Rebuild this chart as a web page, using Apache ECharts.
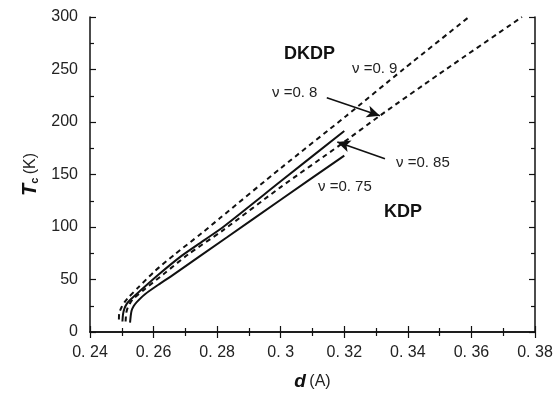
<!DOCTYPE html>
<html>
<head>
<meta charset="utf-8">
<script src="https://cdn.jsdelivr.net/npm/echarts@6/dist/echarts.min.js"></script>
<style>
  html, body { margin: 0; padding: 0; background: #fff; }
  #chart { width: 556px; height: 396px; }
</style>
</head>
<body>
<div id="chart"></div>
<script>
// tick range
const xTicks = { min: 0.24, max: 0.38, step: 0.02 };
const yTicks = { min: 0, max: 300, step: 50 };

// [d (A), Tc (K)]
const dkdpNu09 = [[0.2491, 12], [0.2492, 18], [0.2500, 24], [0.2510, 29], [0.2521, 33], [0.2552, 42.5],
  [0.2604, 58], [0.2667, 74], [0.2751, 94], [0.2809, 108.5], [0.3000, 156], [0.3207, 206], [0.3385, 250], [0.3592, 300]];
const kdpNu085 = [[0.2502, 10], [0.2504, 17], [0.2508, 22], [0.2516, 27], [0.2526, 30.5], [0.2557, 39],
  [0.2615, 54.5], [0.2688, 72.5], [0.2762, 88], [0.2819, 100], [0.3000, 143.5], [0.3200, 191.5]];
const dkdpNu08 = [[0.2512, 10], [0.2514, 18], [0.2519, 23.5], [0.2527, 28], [0.2536, 31.5], [0.2573, 41],
  [0.2631, 55], [0.2709, 74], [0.2819, 97], [0.3000, 138], [0.3186, 178], [0.3312, 206], [0.3500, 246], [0.3759, 300]];
const kdpNu075 = [[0.2526, 9], [0.2528, 15], [0.2531, 20.5], [0.2538, 25], [0.2547, 28.5], [0.2573, 36],
  [0.2615, 45], [0.2657, 53.5], [0.2830, 90], [0.3000, 126], [0.3200, 168]];

// arrows: [from, to] in data units
const arrowNu08 = [[0.3145, 223], [0.3312, 206]];
const arrowNu085 = [[0.3328, 165], [0.3178, 181]];

const FONT = '"Liberation Sans", Arial, sans-serif';
const INK = '#111';

const chart = echarts.init(document.getElementById('chart'));

function curve(name, data, dashed) {
  return {
    name: name,
    type: 'line',
    data: data,
    showSymbol: false,
    smooth: 0.25,
    silent: true,
    lineStyle: { color: INK, width: 2, type: dashed ? [5, 4] : 'solid' },
    z: 3
  };
}

function arrow(pair) {
  return [
    { coord: pair[0], symbol: 'none' },
    { coord: pair[1], symbol: 'arrow', symbolSize: [9, 13] }
  ];
}

const tickLabel = v => String(+v.toFixed(2)).replace('.', '. ');

const baseX = {
  type: 'value',
  min: xTicks.min, max: xTicks.max, interval: xTicks.step,
  axisLine: { show: true, lineStyle: { color: INK, width: 1.5 } },
  axisTick: { show: true, inside: true, length: 6, lineStyle: { color: INK, width: 1.2 } },
  minorTick: { show: true, splitNumber: 2, length: 4, lineStyle: { color: INK, width: 1.2 } },
  splitLine: { show: false }
};
const baseY = {
  type: 'value',
  min: yTicks.min, max: yTicks.max, interval: yTicks.step,
  axisLine: { show: true, lineStyle: { color: INK, width: 1.5 } },
  axisTick: { show: true, inside: true, length: 6, lineStyle: { color: INK, width: 1.2 } },
  minorTick: { show: true, splitNumber: 2, length: 4, lineStyle: { color: INK, width: 1.2 } },
  splitLine: { show: false }
};

chart.setOption({
  animation: false,
  grid: { left: 90, right: 21, top: 17, bottom: 61 },
  xAxis: [
    Object.assign({}, baseX, {
      position: 'bottom',
      axisLabel: { color: '#222', fontSize: 16, fontFamily: FONT, margin: 13, formatter: tickLabel },
      name: '{d|d} {u|(A)}',
      nameLocation: 'middle',
      nameGap: 40,
      nameTextStyle: {
        rich: {
          d: { fontSize: 19, fontWeight: 'bold', fontStyle: 'italic', fontFamily: FONT, color: INK },
          u: { fontSize: 16, fontFamily: FONT, color: '#222' }
        }
      }
    }),
    Object.assign({}, baseX, { position: 'top', axisLabel: { show: false } })
  ],
  yAxis: [
    Object.assign({}, baseY, {
      position: 'left',
      axisLabel: { color: '#222', fontSize: 16, fontFamily: FONT, margin: 12 },
      name: '{t|T}{c|c} {u|(K)}',
      nameLocation: 'middle',
      nameGap: 46,
      nameRotate: 90,
      nameTextStyle: {
        rich: {
          t: { fontSize: 20, fontWeight: 'bold', fontStyle: 'italic', fontFamily: FONT, color: INK },
          c: { fontSize: 11, fontWeight: 'bold', fontFamily: FONT, color: INK, verticalAlign: 'bottom', padding: [8, 0, 0, 0] },
          u: { fontSize: 16, fontFamily: FONT, color: '#222' }
        }
      }
    }),
    Object.assign({}, baseY, { position: 'right', axisLabel: { show: false } })
  ],
  series: [
    curve('DKDP ν=0.9', dkdpNu09, true),
    curve('KDP ν=0.85', kdpNu085, false),
    curve('DKDP ν=0.8', dkdpNu08, true),
    Object.assign(curve('KDP ν=0.75', kdpNu075, false), {
      markLine: {
        silent: true,
        animation: false,
        label: { show: false },
        lineStyle: { color: INK, width: 1.6, type: 'solid' },
        data: [arrow(arrowNu08), arrow(arrowNu085)]
      }
    })
  ],
  graphic: [
    { type: 'text', left: 284, top: 45, style: { text: 'DKDP', font: 'bold 18px ' + FONT, fill: INK } },
    { type: 'text', left: 384, top: 203, style: { text: 'KDP', font: 'bold 18px ' + FONT, fill: INK } },
    { type: 'text', left: 352, top: 61, style: { text: 'ν =0. 9', font: '15px ' + FONT, fill: '#222' } },
    { type: 'text', left: 272, top: 85, style: { text: 'ν =0. 8', font: '15px ' + FONT, fill: '#222' } },
    { type: 'text', left: 396, top: 155, style: { text: 'ν =0. 85', font: '15px ' + FONT, fill: '#222' } },
    { type: 'text', left: 318, top: 179, style: { text: 'ν =0. 75', font: '15px ' + FONT, fill: '#222' } }
  ]
});
</script>
</body>
</html>
